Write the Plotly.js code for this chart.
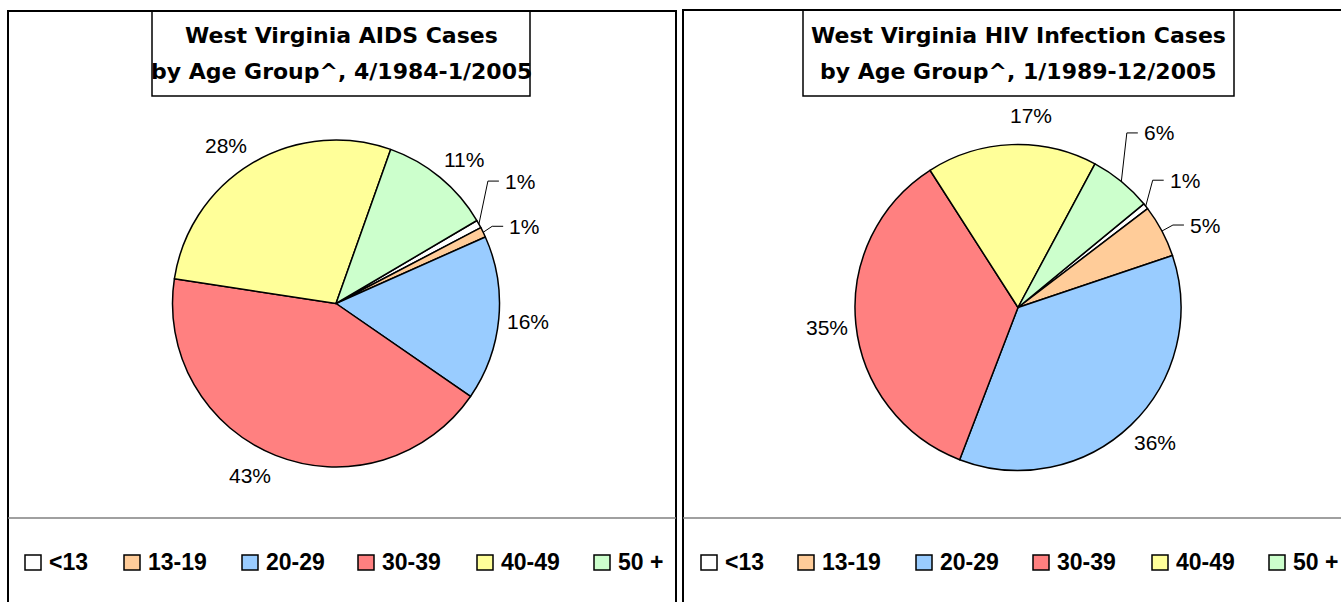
<!DOCTYPE html>
<html>
<head>
<meta charset="utf-8">
<script src="https://cdn.plot.ly/plotly-3.0.1.min.js"></script>
<style>html,body{margin:0;padding:0;background:#fff;}#chart{width:1341px;height:602px;}</style>
</head>
<body>
<div id="chart"></div>
<script>
// ---- data ----
const ageGroups = ['<13', '13-19', '20-29', '30-39', '40-49', '50 +'];
const aidsPercent = [0.8, 1.0, 16.3, 42.8, 28.0, 11.1];
const hivPercent = [0.6, 5.2, 36.0, 35.1, 16.9, 6.2];
const groupColors = ['#FFFFFF', '#FFCC99', '#99CCFF', '#FF8080', '#FFFF99', '#CCFFCC'];
const aidsTitleLines = ['West Virginia AIDS Cases', 'by Age Group^, 4/1984-1/2005'];
const hivTitleLines = ['West Virginia HIV Infection Cases', 'by Age Group^, 1/1989-12/2005'];

// ---- layout / style settings ----
const W = 1341, H = 602;
const px = x => x / W;
const py = y => 1 - y / H;
const labelFont = {family: 'Liberation Sans, Arial, sans-serif', size: 21, color: '#000'};
const legendFont = {family: 'Liberation Sans, Arial, sans-serif', size: 23, color: '#000', weight: 'bold'};
const titleFont = {family: 'DejaVu Sans, sans-serif', size: 22, color: '#000', weight: 'bold'};

const charts = [
  {values: aidsPercent, cx: 336, cy: 303.5, r: 163.5, rot: 59.5, titleLines: aidsTitleLines, titleX: 341,
   titleBox: [152, 530, 11, 96], panel: [8, 676, 11], legendX: [25, 124, 242, 358, 477, 594],
   // per-slice label style: null = radial label; [dx, dy] = label with leader line offset from slice edge
   leader: [[24, -43], [24, -6], null, null, null, null],
   nudge: [0, 0, 0, 5, -4, 2]},
  {values: hivPercent, cx: 1018, cy: 307.5, r: 163, rot: 50.5, titleLines: hivTitleLines, titleX: 1018.5,
   titleBox: [803, 1234, 10, 96], panel: [683, 1360, 10], legendX: [701, 798, 916, 1033, 1152, 1269],
   leader: [[22, -26], [26, -6], null, null, null, [20.5, -48.5]],
   nudge: [0, 0, -1.5, 0, 6, 0]}
];

function midAngles(values, rot) {
  const total = values.reduce((a, b) => a + b, 0);
  let cum = 0;
  return values.map(v => { const a = rot + (cum + v / 2) / total * 360; cum += v; return a; });
}
function polar(c, R, deg) {
  const t = deg * Math.PI / 180;
  return [c.cx + R * Math.sin(t), c.cy - R * Math.cos(t)];
}

const traces = [];
const shapes = [];
const annotations = [];

charts.forEach((c, k) => {
  // panel border and legend separator
  shapes.push({type: 'rect', xref: 'paper', yref: 'paper', x0: px(c.panel[0]), x1: px(c.panel[1]), y0: py(615), y1: py(c.panel[2]), line: {color: '#000', width: 2}});
  shapes.push({type: 'line', xref: 'paper', yref: 'paper', x0: px(c.panel[0]), x1: px(Math.min(c.panel[1], W)), y0: py(518), y1: py(518), line: {color: '#808080', width: 1.5}});
  // title box + title
  const tb = c.titleBox;
  shapes.push({type: 'rect', xref: 'paper', yref: 'paper', x0: px(tb[0]), x1: px(tb[1]), y0: py(tb[3]), y1: py(tb[2]), fillcolor: '#fff', line: {color: '#000', width: 1.5}, layer: 'below'});
  [35.5, 71].forEach((yy, i) => annotations.push({xref: 'paper', yref: 'paper', x: px(c.titleX), y: py(yy), xanchor: 'center', yanchor: 'middle', text: c.titleLines[i], showarrow: false, font: titleFont}));

  // pie
  traces.push({
    type: 'pie', labels: ageGroups, values: c.values, sort: false,
    direction: 'clockwise', rotation: c.rot,
    marker: {colors: groupColors, line: {color: '#000', width: 1.5}},
    textinfo: 'none', textposition: 'none',
    domain: {x: [px(c.cx - c.r), px(c.cx + c.r)], y: [py(c.cy + c.r), py(c.cy - c.r)]},
    automargin: false, showlegend: false, hoverinfo: 'label+percent'
  });

  // percent labels
  const total = c.values.reduce((a, b) => a + b, 0);
  const mids = midAngles(c.values, c.rot);
  c.values.forEach((v, i) => {
    const txt = Math.round(v / total * 100) + '%';
    if (c.leader[i]) {
      const e = polar(c, c.r, mids[i]);
      const lx = e[0] + c.leader[i][0], ly = e[1] + c.leader[i][1];
      shapes.push({type: 'path', xref: 'paper', yref: 'paper',
        path: `M${px(e[0])},${py(e[1])} L${px(lx - 15)},${py(ly)} L${px(lx - 4)},${py(ly)}`,
        line: {color: '#000', width: 1}});
      annotations.push({xref: 'paper', yref: 'paper', x: px(lx), y: py(ly), xanchor: 'left', yanchor: 'middle', text: txt, showarrow: false, font: labelFont});
    } else {
      const p = polar(c, c.r + 29, mids[i] + c.nudge[i]);
      annotations.push({xref: 'paper', yref: 'paper', x: px(p[0]), y: py(p[1]), xanchor: 'center', yanchor: 'middle', text: txt, showarrow: false, font: labelFont});
    }
  });

  // legend
  ageGroups.forEach((g, i) => {
    const x0 = c.legendX[i];
    shapes.push({type: 'rect', xref: 'paper', yref: 'paper', x0: px(x0), x1: px(x0 + 16), y0: py(570), y1: py(555), fillcolor: groupColors[i], line: {color: '#000', width: 1.5}});
    annotations.push({xref: 'paper', yref: 'paper', x: px(x0 + 22), y: py(562), xanchor: 'left', yanchor: 'middle', text: g, showarrow: false, font: legendFont});
  });
});

const layout = {
  width: W, height: H,
  margin: {l: 0, r: 0, t: 0, b: 0},
  paper_bgcolor: '#fff', plot_bgcolor: '#fff',
  showlegend: false,
  shapes: shapes,
  annotations: annotations
};

Plotly.newPlot('chart', traces, layout, {displayModeBar: false, staticPlot: true});
</script>
</body>
</html>
